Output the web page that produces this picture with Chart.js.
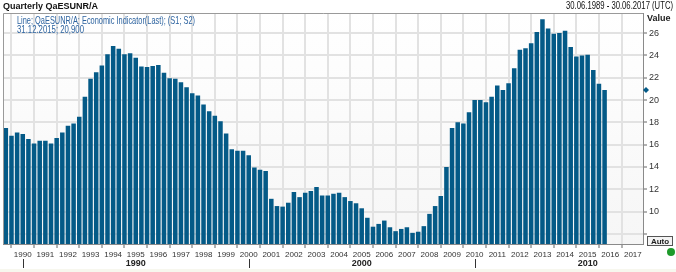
<!DOCTYPE html>
<html>
<head>
<meta charset="utf-8">
<script src="https://cdn.jsdelivr.net/npm/chart.js@4"></script>
<style>
  html, body { margin: 0; padding: 0; background: #fff; }
  #wrap { width: 676px; height: 272px; position: relative; }
</style>
</head>
<body>
<div id="wrap"><canvas id="chart" width="676" height="272"></canvas></div>
<script>
// Quartalswerte, erstes Quartal endet 30.06.1989, letztes 31.12.2015
const firstYear = 1989;
const firstMonth = 6;
const values = [
  17.5, 16.8, 17.1, 16.95, 16.5, 16.1, 16.35, 16.35, 16.1, 16.6,
  17.1, 17.7, 17.9, 18.5, 20.3, 21.9, 22.5, 23.1, 24.1, 24.85,
  24.6, 24.1, 24.2, 23.8, 23.0, 22.95, 23.05, 23.15, 22.45, 21.95,
  21.9, 21.6, 21.15, 20.6, 20.4, 19.6, 19.0, 18.6, 18.1, 17.0,
  15.6, 15.45, 15.45, 15.05, 13.95, 13.75, 13.65, 11.15, 10.5, 10.45,
  10.8, 11.75, 11.3, 11.7, 11.85, 12.2, 11.45, 11.45, 11.6, 11.7,
  11.3, 10.95, 10.75, 10.3, 9.45, 8.65, 8.9, 9.2, 8.6, 8.25,
  8.45, 8.6, 8.1, 8.2, 8.7, 9.8, 10.5, 11.4, 14.0, 17.5,
  18.0, 17.9, 18.9, 20.0, 20.0, 19.8, 20.3, 21.3, 20.9, 21.5,
  22.85, 24.5, 24.65, 25.1, 26.1, 27.25, 26.4, 25.95, 26.0, 26.2,
  24.75, 23.9, 24.0, 24.05, 22.7, 21.45, 20.9
];
const yearTicks = [];
for (let y = 1990; y <= 2017; y++) yearTicks.push(y);
const decades = [1990, 2000, 2010];
const valueTicks = [10, 12, 14, 16, 18, 20, 22, 24, 26];

// Quartalsenden als Kategorien
const quarterEnds = values.map((v, i) => {
  const m = firstMonth + i * 3;
  const year = firstYear + Math.floor((m - 1) / 12);
  const month = ((m - 1) % 12) + 1;
  return { year: year, month: month };
});
const points = quarterEnds.map((q, i) => ({ x: q.year + (q.month - 3) / 12, y: values[i] }));

const lastLabel = "31.12.2015; 20,900";
const barColor = "#045a87";
const font = "'Liberation Sans', Arial, sans-serif";

// schmale Schrift nachbilden: Text auf Zielbreite stauchen
function narrowText(ctx, text, x, y, maxW) {
  const w = ctx.measureText(text).width;
  const k = w > maxW ? maxW / w : 1;
  ctx.save();
  ctx.translate(x, y);
  ctx.scale(k, 1);
  ctx.fillText(text, 0, 0);
  ctx.restore();
}

const frame = {
  id: "frame",
  beforeDraw(chart) {
    const { ctx, chartArea: a } = chart;
    ctx.save();
    const g = ctx.createLinearGradient(0, a.top, 0, a.bottom);
    g.addColorStop(0, "#ffffff");
    g.addColorStop(1, "#f6f6f6");
    ctx.fillStyle = g;
    ctx.fillRect(a.left, a.top, a.right - a.left, a.bottom - a.top);
    ctx.fillStyle = "#f7f7ee";
    ctx.fillRect(0, 269, chart.width, 3);
    ctx.restore();
  },
  afterDraw(chart) {
    const { ctx, chartArea: a } = chart;
    const xs = chart.scales.x, ys = chart.scales.y;
    ctx.save();
    ctx.strokeStyle = "#9a9a9a";
    ctx.lineWidth = 1;
    ctx.beginPath();
    ctx.moveTo(a.left + 0.5, a.bottom);
    ctx.lineTo(a.left + 0.5, a.top + 0.5);
    ctx.lineTo(a.right, a.top + 0.5);
    ctx.stroke();

    // Titel
    ctx.fillStyle = "#111";
    ctx.font = "bold 9px " + font;
    ctx.textBaseline = "alphabetic";
    ctx.textAlign = "left";
    ctx.fillText("Quarterly QaESUNR/A", 3, 9);
    ctx.font = "10px " + font;
    narrowText(ctx, "30.06.1989 - 30.06.2017 (UTC)", 566, 9, 107);

    // Legende
    ctx.fillStyle = "#2e64a0";
    ctx.font = "10.5px " + font;
    narrowText(ctx, "Line; QaESUNR/A; Economic Indicator(Last); (S1; S2)", 17, 23.5, 178);
    narrowText(ctx, lastLabel, 17, 33, 67);

    // Achsentitel
    ctx.fillStyle = "#222";
    ctx.font = "bold 9px " + font;
    ctx.fillText("Value", 647, 21);

    // Jahrzehnte
    ctx.strokeStyle = "#333";
    ctx.beginPath();
    decades.forEach((d) => {
      const px = Math.round(xs.getPixelForValue(d)) + 0.5;
      ctx.moveTo(px, 259);
      ctx.lineTo(px, 268);
    });
    ctx.stroke();
    ctx.textAlign = "center";
    ctx.fillStyle = "#222";
    decades.forEach((d) => {
      ctx.fillText(String(d), xs.getPixelForValue(d + 5), 266);
    });

    // letzter Wert auf der Achse
    const ly = ys.getPixelForValue(values[values.length - 1]);
    const lx = a.right + 3;
    ctx.fillStyle = barColor;
    ctx.beginPath();
    ctx.moveTo(lx, ly - 3);
    ctx.lineTo(lx + 3, ly);
    ctx.lineTo(lx, ly + 3);
    ctx.lineTo(lx - 3, ly);
    ctx.closePath();
    ctx.fill();

    // Auto-Knopf
    ctx.fillStyle = "#f4f4f4";
    ctx.fillRect(647, 236, 26, 10);
    ctx.strokeStyle = "#555";
    ctx.strokeRect(647.5, 236.5, 25, 9);
    ctx.fillStyle = "#222";
    ctx.font = "bold 8px " + font;
    ctx.fillText("Auto", 660, 244);
    ctx.fillStyle = "#1e9a2a";
    ctx.beginPath();
    ctx.arc(671, 252, 4, 0, Math.PI * 2);
    ctx.fill();
    ctx.restore();
  },
};

new Chart(document.getElementById("chart"), {
  type: "bar",
  data: {
    datasets: [
      {
        label: "QaESUNR/A",
        data: points,
        backgroundColor: barColor,
        borderWidth: 0,
        barPercentage: 0.8,
        categoryPercentage: 1,
      },
    ],
  },
  options: {
    responsive: false,
    animation: false,
    layout: { padding: { left: 3, top: 13, right: 0, bottom: 0 } },
    plugins: { legend: { display: false }, tooltip: { enabled: false } },
    scales: {
      x: {
        type: "linear",
        offset: false,
        min: 1989.125,
        max: 2017.45,
        afterBuildTicks(scale) {
          scale.ticks = yearTicks.map((v) => ({ value: v }));
        },
        afterFit(scale) {
          scale.height = 28;
        },
        ticks: {
          autoSkip: false,
          maxRotation: 0,
          padding: 2,
          color: "#333",
          font: { family: font, size: 8 },
          callback: (v) => String(v),
        },
        grid: { color: "#e2e2e2", lineWidth: 2, tickColor: "#666", tickLength: 4, tickWidth: 1 },
        border: { color: "#8a8a8a", width: 1 },
      },
      y: {
        position: "right",
        min: 7.1,
        max: 27.8,
        afterBuildTicks(scale) {
          scale.ticks = [8].concat(valueTicks).map((v) => ({ value: v }));
        },
        afterFit(scale) {
          scale.width = 33;
        },
        ticks: {
          padding: 2,
          color: "#333",
          font: { family: font, size: 9 },
          callback: (v) => (valueTicks.includes(v) ? String(v) : ""),
        },
        grid: { color: "#e2e2e2", lineWidth: 2, tickColor: "#666", tickLength: 4, tickWidth: 1 },
        border: { color: "#8a8a8a", width: 1 },
      },
    },
  },
  plugins: [frame],
});
</script>
</body>
</html>
